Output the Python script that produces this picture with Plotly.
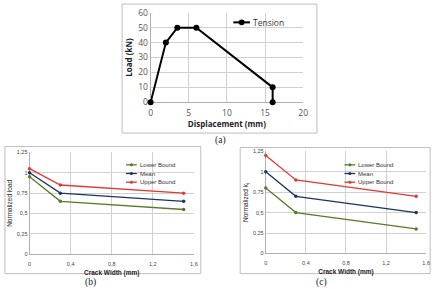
import plotly.graph_objects as go

# ---- data ----
disp = [0, 2, 3.5, 6, 16, 16]
tension = [0, 40, 50, 50, 10, 0]

crack = [0, 0.3, 1.5]
load_lower = [0.95, 0.65, 0.55]
load_mean = [1.0, 0.75, 0.65]
load_upper = [1.05, 0.85, 0.75]

k_lower = [0.8, 0.5, 0.3]
k_mean = [1.0, 0.7, 0.5]
k_upper = [1.2, 0.9, 0.7]

series_names = ["Lower Bound", "Mean", "Upper Bound"]
series_colors = ["#5A7A2A", "#1B3560", "#E03A32"]

W, H = 443, 295
def px(x): return x / W
def py(y): return 1 - y / H

fig = go.Figure()

fig.add_trace(go.Scatter(x=disp, y=tension, mode="lines+markers", name="Tension",
                         line=dict(color="black", width=2), marker=dict(size=6, color="black"),
                         cliponaxis=False, xaxis="x", yaxis="y"))

for vals, nm, col in zip([load_lower, load_mean, load_upper], series_names, series_colors):
    fig.add_trace(go.Scatter(x=crack, y=vals, mode="lines+markers", name=nm,
                             line=dict(color=col, width=1.3), marker=dict(size=3.5, color=col),
                             cliponaxis=False, xaxis="x2", yaxis="y2"))
for vals, nm, col in zip([k_lower, k_mean, k_upper], series_names, series_colors):
    fig.add_trace(go.Scatter(x=crack, y=vals, mode="lines+markers", name=nm,
                             line=dict(color=col, width=1.3), marker=dict(size=3.5, color=col),
                             cliponaxis=False, xaxis="x3", yaxis="y3"))

grid = "#D0D0D0"
tick_top = dict(family="Open Sans, Liberation Sans, sans-serif", size=8.5, color="#555555")
tick_bot = dict(family="Liberation Sans, Arial, sans-serif", size=5.5, color="#444444")
ttl_top = dict(family="Open Sans, Liberation Sans, sans-serif", size=8, color="#222222")
ttl_bot = dict(family="Liberation Sans, Arial, sans-serif", size=6.5, color="#222222")

common = dict(showgrid=True, gridcolor=grid, gridwidth=1, zeroline=False,
              showline=True, linecolor="#B0B0B0", linewidth=1, ticks="", fixedrange=True,
              layer="below traces")

fig.update_layout(
    width=W, height=H, margin=dict(l=0, r=0, t=0, b=0),
    paper_bgcolor="white", plot_bgcolor="white",
    separators=",.",
    showlegend=False,
    xaxis=dict(domain=[px(151), px(306)], range=[0, 20], dtick=5, tickfont=tick_top,
               ticklabelstandoff=3,
               title=dict(text="<b>Displacement (mm)</b>", font=ttl_top, standoff=2),
               anchor="y", **common),
    yaxis=dict(domain=[py(100), py(7)], range=[0, 60], dtick=10, tickfont=tick_top,
               title=dict(text="<b>Load (kN)</b>", font=ttl_top, standoff=4),
               anchor="x", **common),
    xaxis2=dict(domain=[px(28), px(195)], range=[0, 1.6], dtick=0.4, tickfont=tick_bot,
                ticklabelstandoff=4,
                title=dict(text="<b>Crack Width (mm)</b>", font=ttl_bot, standoff=4),
                anchor="y2", **common),
    yaxis2=dict(domain=[py(258), py(152)], range=[0, 1.25], dtick=0.25, tickfont=tick_bot,
                title=dict(text="Normalized load", font=ttl_bot, standoff=3),
                anchor="x2", **common),
    xaxis3=dict(domain=[px(268), px(431)], range=[0, 1.6], dtick=0.4, tickfont=tick_bot,
                ticklabelstandoff=4,
                title=dict(text="<b>Crack Width (mm)</b>", font=ttl_bot, standoff=4),
                anchor="y3", **common),
    yaxis3=dict(domain=[py(257), py(151)], range=[0, 1.25], dtick=0.25, tickfont=tick_bot,
                title=dict(text="Normalized k<sub>I</sub>", font=ttl_bot, standoff=3),
                anchor="x3", **common),
)

# chart frames
for (x0, y0, x1, y1) in [(122, -2, 320, 132), (3, 146, 202, 278), (242, 147, 435, 278)]:
    fig.add_shape(type="rect", xref="paper", yref="paper", x0=px(x0), x1=px(x1), y0=py(y1), y1=py(y0),
                  line=dict(color="#BEBEBE", width=1), fillcolor="rgba(0,0,0,0)", layer="below")

# legend helper (drawn in paper coordinates)
def legend_item(x0, x1, y, color, lw, r, text, fsize, family):
    fig.add_shape(type="line", xref="paper", yref="paper", x0=px(x0), x1=px(x1), y0=py(y), y1=py(y),
                  line=dict(color=color, width=lw))
    xm = (x0 + x1) / 2
    fig.add_shape(type="circle", xref="paper", yref="paper", x0=px(xm - r), x1=px(xm + r),
                  y0=py(y + r), y1=py(y - r), line=dict(color=color, width=0), fillcolor=color)
    fig.add_annotation(text=text, x=px(x1 + 1), y=py(y), xref="paper", yref="paper", showarrow=False,
                       xanchor="left", yanchor="middle",
                       font=dict(family=family, size=fsize, color="#333333"))

legend_item(235, 252, 17, "black", 2, 3, "Tension", 8.5, "Open Sans, Liberation Sans, sans-serif")
for (lx0, lx1), ys in [((126, 137), [165, 174, 183]), ((348, 359), [165, 174, 183])]:
    for nm, col, yy in zip(series_names, series_colors, ys):
        legend_item(lx0, lx1, yy, col, 1.3, 1.6, nm, 6, "Liberation Sans, Arial, sans-serif")

# panel labels
for lab, x, y in [("(a)", 222, 140), ("(b)", 90, 287), ("(c)", 325, 287)]:
    fig.add_annotation(text=lab, x=px(x), y=py(y), xref="paper", yref="paper", showarrow=False,
                       xanchor="center", yanchor="middle",
                       font=dict(family="Liberation Serif, Times New Roman, serif", size=9.5, color="#222222"))

fig.write_html("out.html")
